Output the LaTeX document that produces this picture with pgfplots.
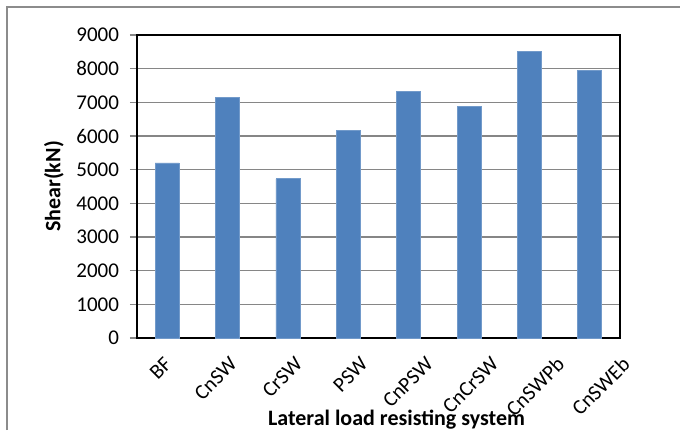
\documentclass[border=0pt]{standalone}
\usepackage{fontspec}
\setmainfont{Carlito}
\usepackage{pgfplots}
\pgfplotsset{compat=1.18}
\definecolor{barblue}{HTML}{4F81BD}
\definecolor{gridgray}{HTML}{868686}
\definecolor{framegray}{HTML}{8C8C8C}

\begin{document}
\begin{tikzpicture}[x=1pt,y=1pt]
  % 1pt here = 2px of the reference
  \useasboundingbox (-68.5,-46) rectangle (271.5,169);
  \draw[framegray, line width=1pt] (-65,-46) -- (-65,165.5) -- (271.5,165.5);
  \begin{axis}[
      at={(0,0)}, anchor=south west,
      scale only axis, width=241.5pt, height=151.5pt,
      ybar, bar width=12pt,
      xmin=-0.5, xmax=7.5,
      ymin=0, ymax=9000,
      xtick={0,...,7},
      xticklabels={BF, CnSW, CrSW, PSW, CnPSW, CnCrSW, CnSWPb, CnSWEb},
      ytick={0,1000,...,9000},
      ytick pos=left,
      ymajorgrids,
      grid style={gridgray, line width=0.75pt},
      axis line style={black, line width=0.6pt},
      ytick style={gridgray, line width=0.75pt},
      xtick style={draw=none},
      tick align=outside, major tick length=3.5pt,
      /pgf/number format/assume math mode=true,
      /pgf/number format/1000 sep={},
      tick label style={font=\fontsize{10.5}{12}\selectfont},
      y tick label style={xshift=-2pt},
      % the labels in the reference drift right of the bars, about 5px per category
      x tick label style={xshift={-2pt+2.5pt*\ticknum}, yshift=-0.4pt,
        rotate=45, anchor=north east},
      ylabel={Shear(kN)},
      ylabel style={font=\bfseries\fontsize{11}{13}\selectfont, at={(axis description cs:-0.172,0.5)}, anchor=center},
      xlabel={Lateral load resisting system},
      xlabel style={font=\bfseries\fontsize{11}{13}\selectfont, at={(axis description cs:0.5,0)}, anchor=center, xshift=9pt, yshift=-41pt},
    ]
    \addplot[fill=barblue, draw=barblue!80!white] coordinates {
      (0,5200) (1,7150) (2,4730) (3,6160)
      (4,7320) (5,6890) (6,8520) (7,7960)
    };
  \end{axis}
\end{tikzpicture}
\end{document}
